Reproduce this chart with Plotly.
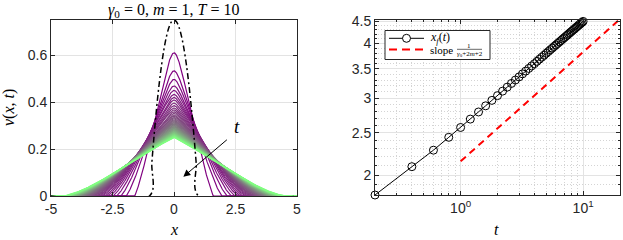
import numpy as np
import plotly.graph_objects as go

# ---------------- data ----------------
t_vals = [0.2, 0.4, 0.6, 0.8, 1.0, 1.2, 1.4, 1.6, 1.8, 2.0,
          2.2, 2.4, 2.6, 2.8, 3.0, 3.2, 3.4, 3.6, 3.8, 4.0,
          4.2, 4.4, 4.6, 4.8, 5.0, 5.2, 5.4, 5.6, 5.8, 6.0,
          6.2, 6.4, 6.6, 6.8, 7.0, 7.2, 7.4, 7.6, 7.8, 8.0,
          8.2, 8.4, 8.6, 8.8, 9.0, 9.2, 9.4, 9.6, 9.8, 10.0]

# front position x_f(t) (right panel)
front_vals = [1.80, 2.09, 2.28, 2.44, 2.570, 2.686, 2.789, 2.881, 2.965, 3.040,
              3.113, 3.179, 3.242, 3.301, 3.356, 3.410, 3.460, 3.509, 3.555, 3.598,
              3.642, 3.684, 3.724, 3.762, 3.801, 3.836, 3.872, 3.906, 3.940, 3.972,
              4.004, 4.035, 4.065, 4.095, 4.124, 4.152, 4.180, 4.207, 4.234, 4.260,
              4.285, 4.311, 4.335, 4.360, 4.383, 4.407, 4.430, 4.453, 4.475, 4.497]

# profile peaks v(0,t) (left panel)
peak_vals = [0.610, 0.533, 0.497, 0.469, 0.450, 0.433, 0.420, 0.409, 0.396, 0.385,
             0.375, 0.367, 0.359, 0.352, 0.345, 0.340, 0.334, 0.329, 0.324, 0.320,
             0.316, 0.312, 0.308, 0.305, 0.301, 0.298, 0.295, 0.292, 0.289, 0.287,
             0.284, 0.282, 0.280, 0.277, 0.275, 0.273, 0.271, 0.269, 0.267, 0.265,
             0.264, 0.262, 0.260, 0.259, 0.257, 0.256, 0.254, 0.253, 0.251, 0.250]

# edge of the support of each profile (left panel)
support_vals = [1.60, 1.95, 2.17, 2.35, 2.50, 2.63, 2.74, 2.84, 2.94, 3.02,
                3.10, 3.17, 3.24, 3.30, 3.36, 3.42, 3.47, 3.53, 3.57, 3.62,
                3.67, 3.71, 3.76, 3.80, 3.84, 3.88, 3.92, 3.95, 3.99, 4.02,
                4.06, 4.09, 4.12, 4.15, 4.18, 4.21, 4.24, 4.27, 4.30, 4.33,
                4.36, 4.38, 4.41, 4.44, 4.46, 4.49, 4.51, 4.53, 4.56, 4.60]

# initial condition (dash-dot)
x0_vals = [-5.0, -1.0, -0.9, -0.8, -0.7, -0.6, -0.5, -0.4, -0.3, -0.2, -0.1, 0.0,
           0.1, 0.2, 0.3, 0.4, 0.5, 0.6, 0.7, 0.8, 0.9, 1.0, 5.0]
v0_vals = [0.0, 0.0, 0.1425, 0.27, 0.3825, 0.48, 0.5625, 0.63, 0.6825, 0.72, 0.7425, 0.75,
           0.7425, 0.72, 0.6825, 0.63, 0.5625, 0.48, 0.3825, 0.27, 0.1425, 0.0, 0.0]

# reference slope line
slope_t = [1.0, 20.0]
slope_y = [2.15, 4.55]

left_xticks = [-5, -2.5, 0, 2.5, 5]
left_xticklabels = ["-5", "-2.5", "0", "2.5", "5"]
left_yticks = [0, 0.2, 0.4, 0.6]
left_yticklabels = ["0", "0.2", "0.4", "0.6"]
right_xticks = [1, 10]
right_xticklabels = ["10<sup>0</sup>", "10<sup>1</sup>"]
right_yticks = [2, 2.5, 3, 3.5, 4, 4.5]
right_yticklabels = ["2", "2.5", "3", "3.5", "4", "4.5"]

# profile shape (early -> late)
cap_radius = (0.25, 0.0)
shape_exp = (1.2, 1.6)
shape_skew = (0.0, 0.6)

# ---------------- figure ----------------
W, H = 623, 240


def px(x):
    return x / W


def py(y):
    return 1 - y / H


fig = go.Figure()

xg = np.linspace(-5, 5, 1001)
n = len(t_vals)
lt0, lt1 = np.log(t_vals[0]), np.log(t_vals[-1])
c0 = np.array([128, 0, 128])
c1 = np.array([128, 255, 128])
for k in range(n):
    w = (np.log(t_vals[k]) - lt0) / (lt1 - lt0)
    c = cap_radius[0] + (cap_radius[1] - cap_radius[0]) * w
    p = shape_exp[0] + (shape_exp[1] - shape_exp[0]) * w
    a = shape_skew[0] + (shape_skew[1] - shape_skew[0]) * w
    u = np.sqrt(xg ** 2 + c ** 2) - c
    L = np.sqrt(support_vals[k] ** 2 + c ** 2) - c
    s = np.clip(u / L, 0, 1)
    v = peak_vals[k] * (1 - s) ** p * (1 + a * s)
    col = c0 + (c1 - c0) * (k / (n - 1))
    fig.add_trace(go.Scatter(x=xg, y=v, mode="lines",
                             line=dict(color="rgb(%d,%d,%d)" % tuple(col.round().astype(int)), width=1.2),
                             xaxis="x", yaxis="y", showlegend=False, hoverinfo="skip"))

fig.add_trace(go.Scatter(x=x0_vals, y=v0_vals, mode="lines", line_shape="spline",
                         line=dict(color="black", width=1.5, dash="6px,3px,2px,3px"),
                         xaxis="x", yaxis="y", showlegend=False))

fig.add_trace(go.Scatter(x=t_vals, y=front_vals, mode="lines+markers", cliponaxis=False,
                         line=dict(color="black", width=1),
                         marker=dict(symbol="circle-open", size=8, color="black", line=dict(width=1)),
                         xaxis="x2", yaxis="y2", showlegend=False))
fig.add_trace(go.Scatter(x=slope_t, y=slope_y, mode="lines",
                         line=dict(color="red", width=2, dash="7px,5px"),
                         xaxis="x2", yaxis="y2", showlegend=False))

grid_col = "#e3e3e3"
minor_col = "#d4d4d4"
axis_common = dict(showline=True, linecolor="#262626", linewidth=0.8, mirror="ticks",
                   ticks="inside", ticklen=4, tickcolor="#262626", zeroline=False,
                   automargin=False,
                   tickfont=dict(family="Liberation Sans, Arial, sans-serif", size=14, color="#262626"),
                   gridcolor=grid_col, gridwidth=1)

fig.update_layout(
    width=W, height=H, margin=dict(l=0, r=0, t=0, b=0, autoexpand=False),
    paper_bgcolor="white", plot_bgcolor="white", showlegend=False,
    xaxis=dict(domain=[51 / W, 297 / W], range=[-5, 5], tickvals=left_xticks,
               ticktext=left_xticklabels, anchor="y", **axis_common),
    yaxis=dict(domain=[1 - 196 / H, 1 - 20 / H], range=[0, 0.75], tickvals=left_yticks,
               ticktext=left_yticklabels, anchor="x", **axis_common),
    xaxis2=dict(domain=[375 / W, 620 / W], type="log", range=[np.log10(0.2), np.log10(20)],
                tickvals=right_xticks, ticktext=right_xticklabels, anchor="y2",
                minor=dict(tickvals=[0.2, 0.3, 0.4, 0.5, 0.6, 0.7, 0.8, 0.9,
                                     2, 3, 4, 5, 6, 7, 8, 9, 20],
                           ticks="inside", ticklen=2, tickcolor="#262626",
                           showgrid=True, gridcolor=minor_col, griddash="1px,2px", gridwidth=1),
                **axis_common),
    yaxis2=dict(domain=[1 - 195 / H, 1 - 20 / H], type="log",
                range=[np.log10(1.8), np.log10(4.53)],
                tickvals=right_yticks, ticktext=right_yticklabels, anchor="x2",
                minor=dict(tickvals=[1.9, 2.1, 2.2, 2.3, 2.4, 2.6, 2.7, 2.8, 2.9,
                                     3.1, 3.2, 3.3, 3.4, 3.6, 3.7, 3.8, 3.9,
                                     4.1, 4.2, 4.3, 4.4],
                           ticks="inside", ticklen=2, tickcolor="#262626",
                           showgrid=True, gridcolor=minor_col, griddash="1px,2px", gridwidth=1),
                **axis_common),
)

serif = "Liberation Serif, Times New Roman, serif"
fig.add_annotation(x=px(174), y=py(11), xref="paper", yref="paper", showarrow=False,
                   xanchor="center", yanchor="middle",
                   text="<i>γ</i><sub>0</sub> = 0, <i>m</i> = 1, <i>T</i> = 10",
                   font=dict(family=serif, size=16, color="black"))
fig.add_annotation(x=px(9), y=py(108), xref="paper", yref="paper", showarrow=False,
                   xanchor="center", yanchor="middle",
                   text="<i>v</i>(<i>x</i>, <i>t</i>)", textangle=-90,
                   font=dict(family=serif, size=16, color="black"))
fig.add_annotation(x=px(174), y=py(229), xref="paper", yref="paper", showarrow=False,
                   xanchor="center", yanchor="middle",
                   text="<i>x</i>", font=dict(family=serif, size=16, color="black"))
fig.add_annotation(x=px(497), y=py(229), xref="paper", yref="paper", showarrow=False,
                   xanchor="center", yanchor="middle",
                   text="<i>t</i>", font=dict(family=serif, size=16, color="black"))
# arrow indicating increasing time
fig.add_annotation(x=0.38, y=0.082, ax=2.21, ay=0.245, xref="x", yref="y", axref="x", ayref="y",
                   showarrow=True, arrowhead=2, arrowsize=1.4, arrowwidth=1, arrowcolor="black",
                   text="")
fig.add_annotation(x=2.55, y=0.297, xref="x", yref="y", showarrow=False, text="<i>t</i>",
                   xanchor="center", yanchor="middle",
                   font=dict(family=serif, size=19, color="black"))

# ---- legend (drawn compactly, like the reference) ----
fig.add_shape(type="rect", xref="paper", yref="paper", x0=px(385), x1=px(490), y0=py(59.5), y1=py(30.5),
              line=dict(color="#262626", width=1), fillcolor="white", layer="above")
fig.add_shape(type="line", xref="paper", yref="paper", x0=px(389), x1=px(424), y0=py(38.3), y1=py(38.3),
              line=dict(color="black", width=1), layer="above")
fig.add_shape(type="circle", xref="paper", yref="paper", x0=px(402.5), x1=px(410.5),
              y0=py(42.3), y1=py(34.3), line=dict(color="black", width=1), fillcolor="white", layer="above")
fig.add_shape(type="line", xref="paper", yref="paper", x0=px(389), x1=px(424), y0=py(49.5), y1=py(49.5),
              line=dict(color="red", width=2, dash="8px,5px"), layer="above")
fig.add_annotation(x=px(428), y=py(38.3), xref="paper", yref="paper", showarrow=False,
                   xanchor="left", yanchor="middle", text="<i>x<sub>f</sub></i>(<i>t</i>)",
                   font=dict(family=serif, size=12, color="black"))
fig.add_annotation(x=px(428), y=py(50), xref="paper", yref="paper", showarrow=False,
                   xanchor="left", yanchor="middle", text="slope",
                   font=dict(family=serif, size=11, color="black"))
fig.add_annotation(x=px(469), y=py(45.5), xref="paper", yref="paper", showarrow=False,
                   xanchor="center", yanchor="middle", text="1",
                   font=dict(family=serif, size=7, color="black"))
fig.add_shape(type="line", xref="paper", yref="paper", x0=px(457), x1=px(482), y0=py(49.3), y1=py(49.3),
              line=dict(color="black", width=0.6), layer="above")
fig.add_annotation(x=px(469.5), y=py(54), xref="paper", yref="paper", showarrow=False,
                   xanchor="center", yanchor="middle",
                   text="<i>γ</i><sub>0</sub>+2<i>m</i>+2",
                   font=dict(family=serif, size=7, color="black"))

fig.write_html("out.html", config={"displayModeBar": False},
               post_script="document.body.style.margin='0px';document.body.style.overflow='hidden';")
